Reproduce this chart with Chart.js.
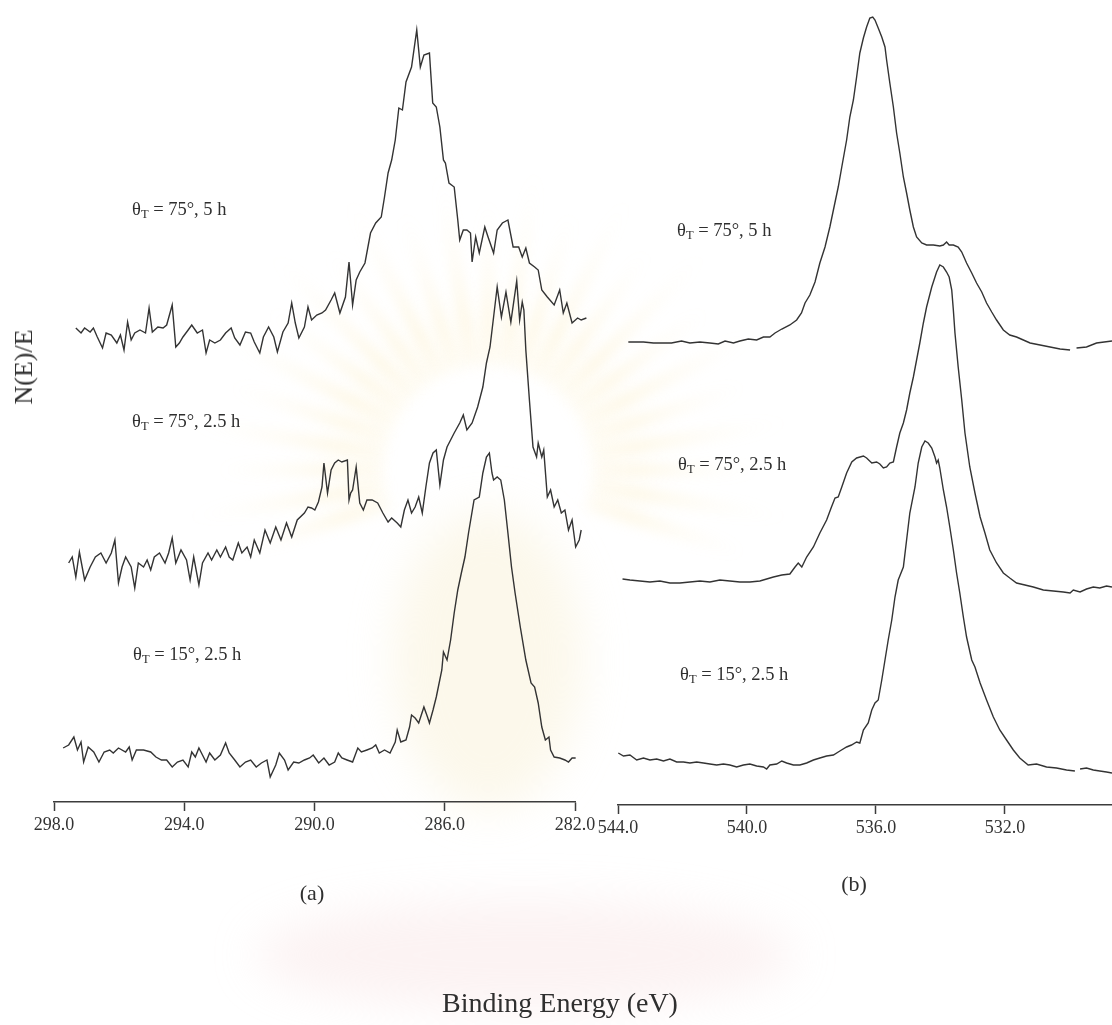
<!DOCTYPE html>
<html>
<head>
<meta charset="utf-8">
<title>XPS C1s / O1s</title>
<script src="https://cdn.jsdelivr.net/npm/chart.js@4.4.1/dist/chart.umd.min.js"></script>
<style>
  body { margin: 0; background: #fff; }
  #page {
    position: relative; width: 1112px; height: 1025px; overflow: hidden;
    font-family: 'Liberation Serif', 'Times New Roman', serif; color: #2f2f2f;
  }
  canvas { position: absolute; top: 0; }
  #watermark { left: 0; }
  #chartC1s { left: 0; }
  #chartO1s { left: 580px; }
  .lbl { position: absolute; font-size: 18.5px; line-height: 1; white-space: nowrap; transform: translateY(-50%); }
  .lbl sub { font-size: 12.5px; vertical-align: -3px; }
  .panel { position: absolute; font-size: 22px; transform: translate(-50%, -50%); }
  #yTitle { position: absolute; left: 24px; top: 367px; font-size: 26px; white-space: nowrap;
            transform: translate(-50%, -50%) rotate(-90deg); }
  #xTitle { position: absolute; left: 560px; top: 1003px; font-size: 28px; white-space: nowrap;
            transform: translate(-50%, -50%); }
</style>
</head>
<body>
<div id="page">
  <canvas id="watermark" width="1112" height="1025"></canvas>
  <canvas id="chartC1s" width="610" height="852"></canvas>
  <canvas id="chartO1s" width="532" height="855"></canvas>

  <div class="lbl" style="left:132px; top:210px">θ<sub>T</sub> = 75°, 5 h</div>
  <div class="lbl" style="left:132px; top:422px">θ<sub>T</sub> = 75°, 2.5 h</div>
  <div class="lbl" style="left:133px; top:655px">θ<sub>T</sub> = 15°, 2.5 h</div>

  <div class="lbl" style="left:677px; top:231px">θ<sub>T</sub> = 75°, 5 h</div>
  <div class="lbl" style="left:678px; top:465px">θ<sub>T</sub> = 75°, 2.5 h</div>
  <div class="lbl" style="left:680px; top:675px">θ<sub>T</sub> = 15°, 2.5 h</div>

  <div class="panel" style="left:312px; top:893px">(a)</div>
  <div class="panel" style="left:854px; top:884px">(b)</div>

  <div id="yTitle">N(E)/E</div>
  <div id="xTitle">Binding Energy (eV)</div>
</div>

<script>
// ---------------------------------------------------------
// C1s region (a): binding energy (eV) and stacked N(E)/E
// ---------------------------------------------------------
const c1s_75_5h_E = [297.33,297.17,297.06,296.89,296.79,296.67,296.51,296.40,296.24,296.07,295.96,295.85,295.74,295.63,295.52,295.36,295.19,295.08,294.98,294.81,294.65,294.54,294.37,294.26,294.15,294.04,293.88,293.77,293.60,293.44,293.33,293.22,293.06,292.89,292.73,292.56,292.45,292.29,292.12,291.96,291.85,291.68,291.57,291.41,291.25,291.14,290.97,290.81,290.70,290.59,290.48,290.31,290.20,290.09,289.93,289.77,289.66,289.49,289.38,289.22,289.05,288.94,288.83,288.72,288.61,288.45,288.28,288.12,287.95,287.85,287.74,287.63,287.52,287.41,287.30,287.19,287.02,286.86,286.75,286.64,286.47,286.37,286.26,286.15,286.04,285.98,285.87,285.71,285.60,285.54,285.43,285.32,285.21,285.16,285.05,284.94,284.77,284.67,284.50,284.39,284.23,284.06,283.90,283.73,283.62,283.51,283.40,283.24,283.13,283.02,282.85,282.64,282.47,282.36,282.25,282.09,281.92,281.81,281.65];
const c1s_75_5h_N = [474,469,474,470,474,465,454,469,467,459,467,452,480,462,469,472,469,494,470,475,474,477,497,455,459,465,472,477,469,472,449,462,459,462,469,474,464,457,470,469,460,449,465,475,465,450,470,479,499,479,464,475,495,482,487,489,492,502,509,489,505,540,497,522,530,539,569,579,585,605,629,642,662,694,692,720,735,772,735,747,749,699,695,675,642,639,619,615,582,562,572,572,569,540,565,549,575,565,549,572,579,582,555,555,545,554,539,535,532,512,505,497,512,489,499,479,484,482,484];

const c1s_75_25h_E = [297.55,297.44,297.33,297.22,297.06,296.89,296.73,296.56,296.40,296.24,296.13,296.02,295.91,295.80,295.63,295.52,295.41,295.25,295.14,295.03,294.92,294.76,294.59,294.48,294.37,294.26,294.10,293.93,293.82,293.71,293.55,293.44,293.27,293.16,293.00,292.89,292.73,292.62,292.51,292.34,292.23,292.07,291.96,291.85,291.68,291.52,291.36,291.19,291.03,290.86,290.70,290.53,290.31,290.20,290.09,289.99,289.88,289.77,289.71,289.60,289.49,289.38,289.27,289.16,288.99,288.94,288.89,288.83,288.72,288.61,288.50,288.39,288.23,288.06,287.90,287.74,287.63,287.46,287.35,287.24,287.13,287.02,286.91,286.80,286.69,286.58,286.47,286.36,286.26,286.15,286.04,285.93,285.71,285.54,285.43,285.32,285.16,284.99,284.83,284.72,284.61,284.50,284.39,284.26,284.12,283.97,283.79,283.70,283.62,283.57,283.51,283.40,283.29,283.18,283.13,283.02,282.96,282.85,282.75,282.64,282.53,282.42,282.31,282.20,282.09,281.98,281.87,281.81];
const c1s_75_25h_N = [239,245,225,250,222,235,245,249,239,249,262,219,235,245,235,214,239,235,242,232,245,249,239,249,264,239,252,242,222,245,217,239,249,242,252,245,255,245,242,259,249,255,245,262,249,272,259,275,262,279,265,282,289,295,294,292,300,315,339,309,332,339,342,340,342,302,309,312,335,299,292,302,302,299,289,280,284,279,275,292,302,289,295,305,289,315,339,349,352,317,342,355,369,379,387,372,379,395,415,439,455,485,515,485,510,480,521,482,500,492,452,402,355,345,359,345,352,305,312,295,302,289,292,272,282,255,262,272];

const c1s_15_25h_E = [297.72,297.55,297.39,297.28,297.17,297.09,296.95,296.78,296.62,296.46,296.29,296.18,296.02,295.80,295.69,295.60,295.47,295.25,295.03,294.87,294.70,294.54,294.37,294.21,294.04,293.88,293.77,293.66,293.55,293.44,293.33,293.22,293.06,292.89,292.73,292.62,292.45,292.29,292.12,291.96,291.79,291.63,291.46,291.36,291.19,291.08,290.92,290.81,290.64,290.48,290.31,290.15,290.04,289.87,289.71,289.55,289.38,289.27,289.16,289.00,288.83,288.67,288.56,288.39,288.23,288.12,288.01,287.85,287.68,287.52,287.46,287.35,287.19,287.08,287.02,286.91,286.80,286.64,286.53,286.47,286.36,286.26,286.09,286.04,285.93,285.82,285.71,285.60,285.49,285.38,285.27,285.10,284.94,284.83,284.72,284.63,284.55,284.50,284.39,284.28,284.17,284.06,283.95,283.84,283.68,283.51,283.35,283.24,283.13,283.02,282.91,282.80,282.75,282.64,282.47,282.31,282.20,282.09,281.98];
const c1s_15_25h_N = [54,57,65,52,60,40,55,50,40,50,52,49,54,50,55,42,52,52,50,45,42,42,35,40,42,35,50,45,54,47,40,49,42,47,59,49,42,35,40,42,35,39,42,25,37,49,42,32,40,39,42,44,47,39,44,37,40,49,44,42,40,54,50,52,54,57,49,52,49,60,72,60,62,75,87,84,79,95,85,79,92,105,132,150,142,162,189,212,229,245,269,302,305,329,345,349,329,322,325,322,302,269,235,209,175,142,119,115,99,75,62,65,52,45,44,42,40,44,44];

// ---------------------------------------------------------
// O1s region (b)
// ---------------------------------------------------------
const o1s_75_5h_E = [543.68,543.52,543.21,542.90,542.59,542.34,542.03,541.77,541.46,541.15,540.89,540.68,540.42,540.22,539.96,539.70,539.49,539.29,539.13,538.92,538.67,538.46,538.31,538.20,538.05,537.89,537.74,537.58,537.43,537.32,537.17,537.06,536.91,536.81,536.70,536.60,536.50,536.39,536.29,536.19,536.10,536.03,535.93,535.82,535.72,535.67,535.57,535.46,535.36,535.26,535.15,535.05,534.95,534.84,534.74,534.58,534.43,534.22,534.02,533.91,533.81,533.73,533.60,533.45,533.34,533.19,533.03,532.88,532.72,532.57,532.41,532.26,532.05,531.85,531.64,531.43,531.22,530.91,530.60,530.29,529.98,529.88,529.78,529.47,529.16,528.68];
const o1s_75_5h_N = [463,463,463,462,462,462,464,462,463,462,461,464,462,464,466,465,468,468,472,476,480,485,492,502,510,523,542,558,578,595,618,638,665,688,705,728,752,767,778,787,788,785,777,768,758,745,722,698,672,652,628,612,595,578,568,562,560,560,559,560,563,560,560,558,553,542,532,522,513,502,493,485,475,470,468,465,462,460,458,456,455,null,457,458,462,464];

const o1s_75_25h_E = [543.86,543.63,543.32,543.01,542.70,542.39,542.08,541.77,541.46,541.15,540.84,540.53,540.22,539.91,539.60,539.39,539.18,538.92,538.67,538.51,538.41,538.30,538.15,537.94,537.74,537.53,537.38,537.27,537.17,537.06,536.91,536.75,536.60,536.39,536.29,536.13,535.98,535.88,535.77,535.67,535.57,535.46,535.36,535.26,535.15,535.05,534.95,534.84,534.74,534.64,534.53,534.43,534.27,534.12,534.02,533.91,533.81,533.73,533.65,533.60,533.55,533.45,533.34,533.24,533.09,532.93,532.77,532.62,532.47,532.26,532.05,531.85,531.64,531.38,531.12,530.81,530.50,530.19,529.98,529.88,529.67,529.47,529.26,529.06,528.85,528.68];
const o1s_75_25h_N = [226,225,224,223,224,222,222,223,224,223,225,224,223,223,224,226,228,230,231,238,242,238,248,258,272,285,298,307,308,318,332,343,347,349,347,342,343,341,337,338,342,343,358,372,382,395,412,428,445,462,482,498,518,533,540,538,533,528,515,495,472,438,405,372,338,312,288,272,255,242,232,227,222,220,218,215,214,213,212,215,213,216,218,217,219,218];

const o1s_15_25h_E = [543.99,543.83,543.63,543.42,543.21,543.01,542.80,542.59,542.39,542.18,541.97,541.77,541.56,541.35,541.15,540.94,540.73,540.53,540.32,540.11,539.91,539.70,539.49,539.39,539.29,539.08,538.92,538.77,538.56,538.36,538.15,537.94,537.74,537.53,537.32,537.12,536.91,536.76,536.60,536.50,536.39,536.24,536.13,536.03,535.93,535.82,535.72,535.62,535.51,535.41,535.31,535.15,535.05,534.95,534.79,534.69,534.58,534.48,534.38,534.27,534.17,534.12,534.07,534.02,533.91,533.81,533.71,533.60,533.50,533.40,533.29,533.19,533.03,532.93,532.77,532.57,532.36,532.16,531.95,531.74,531.54,531.28,531.02,530.71,530.40,530.09,529.83,529.75,529.67,529.47,529.26,529.06,528.85,528.68];
const o1s_15_25h_N = [52,49,50,45,47,45,46,44,46,43,43,42,43,42,41,40,41,40,38,40,41,39,38,36,40,41,44,42,40,40,42,45,47,49,50,54,58,60,63,62,75,82,95,102,105,125,145,165,185,208,225,238,265,292,318,342,358,364,362,357,348,342,345,337,315,298,278,255,232,212,188,168,145,138,122,105,88,75,65,55,47,40,41,38,37,35,34,null,36,37,35,34,33,32];

const c1sTicks = [298, 294, 290, 286, 282];
const o1sTicks = [544, 540, 536, 532];

const LINE_COLOR = '#333333';
const AXIS_COLOR = '#3c3c3c';

// faint sunburst printed behind the page (university watermark)
function drawWatermark() {
    const cv = document.getElementById('watermark');
    const g = cv.getContext('2d');
    const cx = 488, cy = 470;

    g.save();
    g.filter = 'blur(7px)';
    const grad = g.createRadialGradient(cx, cy, 80, cx, cy, 320);
    grad.addColorStop(0, 'rgba(250, 222, 140, 0.05)');
    grad.addColorStop(0.3, 'rgba(250, 222, 140, 0.30)');
    grad.addColorStop(0.7, 'rgba(250, 226, 160, 0.16)');
    grad.addColorStop(1, 'rgba(255, 240, 200, 0)');
    g.fillStyle = grad;
    for (let a = 162; a <= 378; a += 9) {
        const t = a * Math.PI / 180;
        const half = 3.4 * Math.PI / 180;
        const r0 = 105, r1 = (a / 9) % 2 ? 310 : 270;
        g.beginPath();
        g.moveTo(cx + r0 * Math.cos(t - half), cy + r0 * Math.sin(t - half));
        g.lineTo(cx + r1 * Math.cos(t), cy + r1 * Math.sin(t));
        g.lineTo(cx + r0 * Math.cos(t + half), cy + r0 * Math.sin(t + half));
        g.closePath();
        g.fill();
    }
    g.restore();

    // pale emblem body and the ribbon under it
    g.save();
    g.filter = 'blur(22px)';
    g.fillStyle = 'rgba(246, 232, 190, 0.30)';
    g.beginPath();
    g.ellipse(cx, 660, 95, 150, 0, 0, Math.PI * 2);
    g.fill();
    g.fillStyle = 'rgba(245, 212, 212, 0.28)';
    g.beginPath();
    g.ellipse(525, 955, 270, 55, 0, 0, Math.PI * 2);
    g.fill();
    g.restore();
}

function toPoints(E, N) {
    const n = Math.min(E.length, N.length);
    const pts = [];
    for (let i = 0; i < n; i++) pts.push({ x: E[i], y: N[i] });
    return pts;
}

// one panel = one chart, x reversed as usual for binding energy
function makePanel(canvasId, curves, xMin, xMax, tickValues, yMax, padLeft, padRight) {
    const ctx = document.getElementById(canvasId).getContext('2d');
    return new Chart(ctx, {
        type: 'line',
        data: {
            datasets: curves.map(c => ({
                data: toPoints(c[0], c[1]),
                borderColor: LINE_COLOR,
                borderWidth: 1.4,
                pointRadius: 0,
                tension: 0,
                fill: false,
                spanGaps: false,
                clip: false
            }))
        },
        options: {
            responsive: false,
            animation: false,
            events: [],
            layout: { padding: { left: padLeft, right: padRight, top: 0, bottom: 0 } },
            plugins: { legend: { display: false }, tooltip: { enabled: false } },
            scales: {
                x: {
                    type: 'linear',
                    reverse: true,
                    min: xMin,
                    max: xMax,
                    afterBuildTicks: (scale) => {
                        scale.ticks = tickValues.map(v => ({ value: v }));
                    },
                    afterFit: (scale) => { scale.height = 50; },
                    border: { display: true, color: AXIS_COLOR, width: 1.5 },
                    grid: { display: true, drawOnChartArea: false, drawTicks: true,
                            tickLength: 9, tickColor: AXIS_COLOR, tickWidth: 1.5 },
                    ticks: {
                        color: '#333',
                        padding: 3,
                        maxRotation: 0,
                        autoSkip: false,
                        font: { family: "'Liberation Serif', serif", size: 18 },
                        callback: (v) => Number(v).toFixed(1)
                    }
                },
                y: { type: 'linear', display: false, min: 0, max: yMax }
            }
        }
    });
}

drawWatermark();

makePanel('chartC1s', [
    [c1s_75_5h_E, c1s_75_5h_N],
    [c1s_75_25h_E, c1s_75_25h_N],
    [c1s_15_25h_E, c1s_15_25h_N]
], 282, 298, c1sTicks, 802, 54, 35);

makePanel('chartO1s', [
    [o1s_75_5h_E, o1s_75_5h_N],
    [o1s_75_25h_E, o1s_75_25h_N],
    [o1s_15_25h_E, o1s_15_25h_N]
], 528.68, 544, o1sTicks, 805, 38, 0);
</script>
</body>
</html>
